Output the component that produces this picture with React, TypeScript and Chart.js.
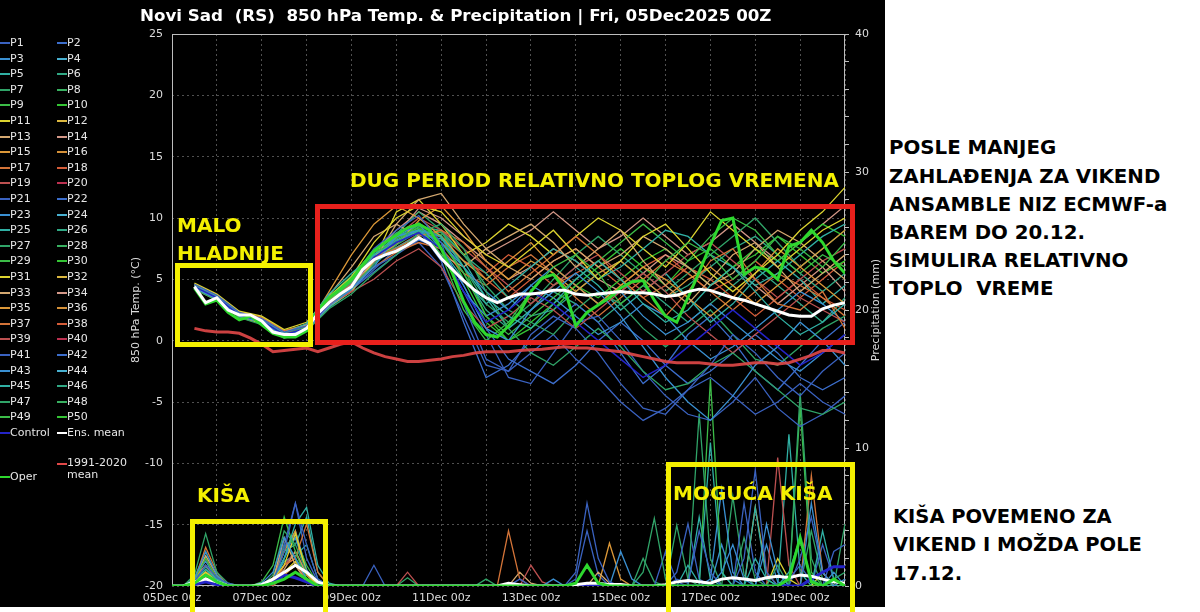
import React, { useEffect, useRef } from 'react';
import { Chart, registerables } from 'chart.js';

Chart.register(...registerables);

// ---------- text ----------
const chartTitle = 'Novi Sad  (RS)  850 hPa Temp. & Precipitation | Fri, 05Dec2025 00Z';
const tempAxisTitle = '850 hPa Temp. (°C)';
const precipAxisTitle = 'Precipitation (mm)';
const xTickLabels = ['05Dec 00z', '07Dec 00z', '09Dec 00z', '11Dec 00z', '13Dec 00z', '15Dec 00z', '17Dec 00z', '19Dec 00z'];

// colour cycle of the ensemble members (P1..P20, repeats)
const memberPalette = [
  '#3a62c0', '#3c6ecc', '#3a90d2', '#48b0d0', '#30b0a4', '#30a884', '#30a468', '#38b060', '#3cbc48', '#34c434',
  '#dcd430', '#dcb840', '#d4a870', '#d49888', '#dc9838', '#d49038', '#d47438', '#d45c38', '#bc5050', '#bc3050',
];

// ---------- temperature (°C) ----------
// 6-hourly, from +12h to +360h
const ensMeanTemp = [
  4.4, 3.1, 3.5, 2.5, 2.1, 2.1, 1.6, 0.7, 0.5, 0.5,
  1.0, 2.2, 3.1, 3.8, 4.4, 5.8, 6.6, 7.0, 7.3, 7.8,
  8.4, 7.9, 6.7, 5.8, 4.9, 4.1, 3.5, 3.1, 3.5, 3.8,
  3.8, 3.9, 4.1, 4.1, 3.8, 3.7, 3.8, 3.9, 4.0, 3.9,
  3.9, 3.8, 3.6, 3.7, 4.0, 4.2, 4.1, 3.8, 3.5, 3.3,
  3.0, 2.7, 2.4, 2.1, 2.0, 2.0, 2.6, 2.9, 3.1,
];
const operTemp = [
  4.3, 3.0, 3.3, 2.3, 1.7, 2.0, 1.3, 0.6, 0.3, 0.3,
  0.8, 2.5, 3.5, 4.2, 5.0, 6.2, 7.3, 8.0, 8.6, 9.2,
  9.5, 9.0, 7.5, 5.5, 3.2, 1.5, 0.5, 0.3, 1.2, 2.3,
  4.0, 5.1, 5.4, 4.2, 1.2, 2.3, 2.9, 3.5, 4.3, 4.8,
  4.9, 3.3, 2.0, 1.5, 3.5, 5.6, 7.8, 9.8, 10.0, 5.4,
  6.0, 5.8, 5.0, 7.7, 8.0, 9.0, 8.0, 6.5, 5.5,
];
const climTemp = [
  1.0, 0.8, 0.7, 0.7, 0.6, 0.2, -0.3, -0.9, -0.8, -0.7,
  -0.6, -0.9, -0.6, -0.3, -0.1, -0.6, -1.0, -1.3, -1.5, -1.7,
  -1.7, -1.6, -1.5, -1.3, -1.2, -1.0, -0.9, -0.9, -0.9, -0.8,
  -0.75, -0.7, -0.6, -0.5, -0.6, -0.6, -0.7, -0.8, -0.9, -1.1,
  -1.3, -1.5, -1.7, -1.8, -1.8, -1.8, -1.9, -2.0, -2.0, -1.9,
  -1.8, -1.8, -1.9, -1.8, -1.5, -1.2, -0.8, -0.8, -1.0,
];
// 12-hourly, from +12h to +360h
const controlTemp = [
  4.4, 3.5, 2.1, 1.6, 0.5, 1.0, 3.0, 4.5, 6.8, 8.0,
  8.8, 7.5, 4.0, 1.5, 2.5, 4.0, 3.0, 1.5, 0.0, -1.5,
  -3.0, -2.0, -0.5, 1.0, 2.5, 1.0, -0.5, -2.0, -1.0, 0.5,
];
const memberIds = [1, 3, 5, 7, 9, 11, 13, 15, 17, 19, 21, 23, 25, 27, 29, 31, 33, 35, 37, 39, 41, 43, 45, 47, 2, 6, 10, 14, 18, 22, 26, 30, 34, 38];
const memberTemp = [
  [4.6, 3.7, 2.3, 1.8, 0.7, 1.2, 3.5, 5.0, 7.5, 9.0, 10.2, 8.0, 3.0, -1.5, -2.5, 0.5, 2.0, 1.0, -1.0, -3.5, -5.5, -6.0, -4.0, -2.0, 0.5, -1.0, -3.0, -4.5, -2.5, -1.0],
  [4.3, 3.4, 2.0, 1.5, 0.4, 0.9, 2.8, 4.2, 6.0, 8.5, 9.5, 7.5, 4.5, 1.0, 0.0, 2.5, 4.0, 5.5, 4.0, 2.0, -0.5, -3.0, -5.0, -6.5, -4.5, -2.0, -0.5, 1.5, 0.0, -2.0],
  [4.5, 3.6, 2.2, 1.7, 0.6, 1.4, 3.8, 5.5, 7.0, 8.0, 9.0, 8.5, 6.0, 3.5, 2.0, 1.0, 3.0, 5.0, 6.5, 5.0, 3.0, 1.5, 2.5, 4.5, 6.0, 4.0, 2.0, 0.5, 1.5, 3.0],
  [4.2, 3.3, 1.9, 1.3, 0.2, 0.8, 2.6, 3.8, 5.5, 7.0, 8.8, 9.5, 7.5, 4.0, 1.0, -1.0, -2.0, -0.5, 1.0, -0.5, -2.5, -4.0, -3.5, -2.0, -1.0, -2.5, -4.0, -5.5, -6.0, -5.0],
  [4.4, 3.5, 2.1, 1.6, 0.5, 1.1, 3.2, 4.8, 7.2, 8.0, 9.5, 7.0, 2.5, 0.0, 1.5, 4.0, 6.0, 7.0, 5.5, 3.0, 4.5, 6.5, 8.0, 7.0, 5.0, 6.5, 8.5, 7.5, 6.0, 8.0],
  [4.7, 3.8, 2.4, 2.0, 0.9, 1.5, 3.6, 5.2, 8.0, 10.0, 11.0, 10.5, 8.5, 7.0, 6.0, 7.5, 9.0, 7.0, 5.0, 6.5, 8.5, 9.5, 7.5, 5.5, 4.0, 5.5, 7.0, 9.0, 10.5, 12.5],
  [4.5, 3.6, 2.2, 1.8, 0.7, 1.3, 3.0, 4.5, 6.5, 9.5, 11.5, 12.0, 9.5, 7.5, 8.5, 9.5, 8.0, 6.0, 7.5, 9.0, 6.5, 4.5, 3.0, 5.0, 7.0, 8.0, 6.0, 4.0, 5.5, 7.0],
  [4.3, 3.4, 2.0, 1.5, 0.5, 1.0, 4.0, 7.0, 9.5, 11.0, 10.0, 8.5, 6.5, 5.0, 6.5, 8.0, 6.0, 4.5, 3.0, 4.5, 6.0, 5.0, 3.5, 2.0, 3.5, 5.5, 7.5, 6.0, 4.5, 3.0],
  [4.6, 3.7, 2.3, 1.9, 0.8, 1.2, 3.3, 4.6, 6.8, 7.5, 8.5, 9.0, 8.0, 6.0, 4.0, 5.5, 7.0, 8.5, 7.0, 5.0, 3.5, 2.0, 4.0, 6.5, 7.5, 5.0, 3.0, 2.5, 4.0, 1.0],
  [4.4, 3.5, 2.1, 1.6, 0.6, 1.0, 2.9, 4.0, 5.0, 6.5, 7.5, 6.0, 3.0, 1.0, 2.0, 3.5, 2.5, 1.0, 2.5, 4.0, 5.5, 4.0, 2.0, 0.5, -1.0, 0.5, 2.0, 3.5, 2.5, 1.5],
  [4.5, 3.6, 2.2, 1.7, 0.6, 1.1, 3.1, 4.3, 6.0, 7.0, 8.5, 7.0, 4.0, 0.5, -3.0, -3.5, -1.0, 1.5, 2.0, 0.0, -2.5, -4.5, -6.0, -6.5, -5.0, -3.0, -5.5, -7.0, -6.0, -4.5],
  [4.3, 3.4, 2.0, 1.5, 0.4, 0.9, 3.4, 5.0, 6.5, 8.5, 9.0, 8.0, 6.0, 4.0, 2.5, 4.5, 6.0, 4.5, 3.0, 4.0, 2.0, 0.5, 1.5, 3.0, 1.5, 0.0, -1.5, -2.5, -1.0, 0.5],
  [4.6, 3.7, 2.3, 1.8, 0.7, 1.2, 3.2, 4.5, 7.0, 8.5, 9.0, 7.5, 5.0, 3.0, 4.5, 6.0, 7.5, 6.5, 5.0, 6.0, 7.5, 9.0, 8.5, 7.0, 6.0, 4.5, 5.5, 7.0, 8.5, 9.5],
  [4.4, 3.5, 2.1, 1.6, 0.5, 1.1, 3.0, 4.4, 6.2, 7.8, 8.9, 8.8, 7.0, 4.5, 2.5, 1.5, 0.5, 2.5, 4.0, 3.0, 1.0, -0.5, 1.0, 2.5, 0.5, -1.5, -2.0, -0.5, 1.0, 2.0],
  [4.5, 3.6, 2.2, 1.7, 0.6, 1.0, 3.0, 4.6, 7.0, 8.3, 9.2, 8.0, 5.5, 2.0, 0.5, 2.0, 3.5, 5.0, 6.5, 8.0, 9.5, 8.0, 6.5, 8.5, 10.0, 9.0, 7.0, 5.5, 7.0, 6.0],
  [4.2, 3.3, 1.9, 1.4, 0.3, 0.8, 2.8, 4.0, 6.5, 10.5, 11.5, 9.5, 7.0, 8.0, 9.5, 8.5, 7.0, 8.5, 10.0, 9.0, 7.5, 6.0, 8.0, 10.5, 9.0, 7.5, 6.0, 7.5, 9.0, 10.0],
  [4.5, 3.6, 2.2, 1.7, 0.7, 1.2, 3.7, 6.0, 8.5, 9.5, 8.5, 7.0, 6.0, 7.5, 6.0, 5.0, 6.5, 7.5, 6.0, 7.0, 8.5, 7.5, 6.0, 4.5, 5.5, 7.5, 9.0, 8.0, 6.5, 5.0],
  [4.6, 3.7, 2.3, 1.9, 0.8, 1.3, 3.4, 5.0, 6.8, 7.8, 9.8, 11.0, 9.0, 6.5, 5.0, 6.5, 5.5, 4.0, 5.5, 6.5, 5.0, 3.5, 5.0, 6.0, 4.5, 3.0, 4.5, 6.0, 7.5, 9.0],
  [4.3, 3.4, 2.0, 1.5, 0.5, 1.0, 3.0, 4.4, 6.0, 7.2, 8.0, 7.5, 5.5, 4.5, 6.0, 7.0, 5.5, 3.5, 2.0, 3.5, 5.0, 6.5, 5.5, 4.0, 2.5, 4.0, 5.5, 4.5, 3.5, 2.0],
  [4.4, 3.5, 2.1, 1.6, 0.6, 1.1, 3.1, 4.5, 6.4, 8.5, 10.0, 9.0, 7.5, 6.0, 4.5, 3.0, 4.5, 6.0, 7.0, 5.5, 4.0, 5.5, 7.0, 8.0, 6.5, 5.0, 3.5, 5.0, 6.5, 7.5],
  [4.5, 3.6, 2.2, 1.7, 0.6, 1.1, 2.9, 4.1, 5.8, 7.5, 8.0, 6.0, 2.0, -2.0, -2.5, -1.0, 0.5, -1.5, -3.0, -5.0, -6.5, -5.5, -4.0, -3.0, -4.5, -6.0, -5.0, -3.5, -5.0, -6.0],
  [4.4, 3.5, 2.1, 1.6, 0.5, 1.0, 3.3, 4.9, 6.9, 8.2, 9.0, 7.0, 4.0, 2.0, 3.0, 4.5, 3.5, 2.0, 0.5, 1.5, 3.0, 2.0, 0.0, -1.5, -0.5, 1.0, 2.5, 4.0, 3.0, 1.5],
  [4.3, 3.4, 2.0, 1.5, 0.4, 0.9, 2.7, 4.0, 6.3, 7.6, 8.6, 8.3, 6.5, 3.5, 1.0, 2.5, 4.5, 6.0, 4.5, 2.5, 4.0, 5.5, 3.5, 1.5, 3.0, 5.0, 6.5, 5.0, 3.0, 4.5],
  [4.6, 3.7, 2.3, 1.8, 0.8, 1.3, 3.6, 5.3, 7.3, 8.7, 10.5, 9.0, 6.0, 3.0, 1.5, 3.0, 5.0, 7.0, 8.5, 7.0, 5.5, 4.0, 5.5, 7.0, 8.5, 10.0, 8.0, 6.0, 7.5, 9.0],
  [4.5, 3.6, 2.2, 1.7, 0.6, 1.1, 3.3, 4.7, 6.6, 8.0, 9.0, 6.5, 1.5, -3.0, -2.0, 0.0, 1.5, 3.0, 1.5, -1.0, -3.5, -2.0, 0.5, 2.0, 0.0, -2.5, -4.0, -2.0, 0.0, 1.5],
  [4.4, 3.5, 2.1, 1.6, 0.5, 1.0, 3.1, 4.6, 6.9, 8.1, 9.3, 9.0, 7.0, 5.5, 3.5, 2.0, 2.5, 4.0, 5.5, 6.5, 5.0, 3.5, 4.5, 6.0, 7.5, 8.5, 7.0, 5.5, 4.0, 5.5],
  [4.3, 3.4, 2.0, 1.5, 0.5, 1.0, 3.0, 4.3, 6.4, 7.9, 9.1, 8.6, 5.0, 1.5, 0.0, 1.5, 3.0, 4.5, 3.5, 5.0, 6.5, 7.5, 6.0, 4.5, 6.0, 7.5, 6.5, 8.0, 9.5, 8.5],
  [4.6, 3.7, 2.3, 1.8, 0.7, 1.2, 3.4, 5.0, 7.2, 9.0, 10.5, 9.5, 8.0, 6.5, 5.0, 6.0, 7.5, 6.5, 5.0, 4.0, 5.5, 7.0, 6.0, 4.5, 6.0, 4.5, 3.0, 4.5, 6.0, 4.0],
  [4.5, 3.6, 2.2, 1.7, 0.6, 1.1, 3.2, 4.6, 6.5, 8.0, 9.0, 8.0, 6.5, 5.5, 7.0, 6.0, 4.5, 5.5, 6.5, 5.0, 3.5, 4.5, 6.0, 5.0, 3.5, 2.0, 3.5, 5.0, 3.5, 2.5],
  [4.4, 3.5, 2.1, 1.6, 0.5, 1.0, 3.0, 4.2, 5.6, 7.0, 8.2, 7.5, 4.5, 1.0, -1.5, -2.5, -3.5, -2.0, 0.0, 1.5, 0.0, -2.0, -3.5, -2.5, -1.0, 0.5, -1.0, -3.0, -4.0, -3.0],
  [4.5, 3.6, 2.2, 1.7, 0.6, 1.1, 3.5, 5.1, 7.4, 8.8, 9.6, 8.4, 5.5, 2.5, 1.0, 2.5, 4.0, 3.0, 1.5, 3.0, 4.5, 3.0, 1.5, 3.0, 4.5, 6.0, 4.5, 3.0, 1.5, 3.5],
  [4.4, 3.5, 2.1, 1.6, 0.6, 1.1, 3.1, 4.5, 6.7, 8.4, 9.4, 8.9, 6.0, 2.0, 0.0, 1.0, 2.5, 4.5, 6.0, 7.5, 6.0, 4.5, 6.5, 7.5, 6.0, 7.0, 8.5, 7.0, 5.5, 6.5],
  [4.3, 3.4, 2.0, 1.5, 0.4, 0.9, 3.2, 4.8, 6.8, 8.6, 10.8, 10.0, 8.5, 7.0, 8.0, 9.0, 10.5, 9.0, 7.5, 8.5, 10.0, 8.5, 7.0, 8.0, 9.5, 8.0, 6.5, 8.0, 9.5, 11.0],
  [4.6, 3.7, 2.3, 1.8, 0.8, 1.2, 3.3, 4.7, 6.7, 7.6, 8.7, 8.5, 7.0, 5.0, 3.5, 5.0, 6.5, 7.5, 6.0, 4.5, 6.0, 7.0, 5.5, 4.0, 5.0, 6.5, 5.0, 3.5, 5.0, 6.5],
];

// ---------- precipitation (mm), 6-hourly from +0h to +360h ----------
const ensMeanPrecip = [
  0, 0, 0.3, 0.5, 0.3, 0, 0, 0, 0.1, 0.5,
  1.0, 1.5, 1.0, 0.3, 0, 0, 0, 0, 0, 0,
  0, 0, 0, 0, 0, 0, 0, 0, 0, 0,
  0.2, 0.1, 0, 0, 0, 0, 0.1, 0.2, 0.2, 0.1,
  0.1, 0, 0, 0, 0.1, 0.3, 0.4, 0.3, 0.2, 0.5,
  0.6, 0.5, 0.4, 0.6, 0.7, 0.6, 0.8, 0.7, 0.5, 0.3, 0.2,
];
const operPrecip = [
  0, 0, 0.2, 0.8, 0.3, 0, 0, 0, 0, 0.2,
  0.5, 1.0, 0.5, 0, 0, 0, 0, 0, 0, 0,
  0, 0, 0, 0, 0, 0, 0, 0, 0, 0,
  0, 0, 0, 0, 0, 0, 0.2, 1.5, 0.2, 0,
  0, 0, 0, 0, 0, 0, 0, 0, 0, 0,
  0, 0, 0, 0, 0, 0.5, 3.5, 0.3, 0, 0.5, 0,
];
const controlPrecip = [
  0, 0, 0.1, 0.3, 0.1, 0, 0, 0, 0, 0.2,
  0.8, 0.6, 0.3, 0, 0, 0, 0, 0, 0, 0,
  0, 0, 0, 0, 0, 0, 0, 0, 0, 0,
  0, 0, 0, 0, 0, 0, 0, 0, 0, 0,
  0, 0, 0, 0, 0, 0, 0, 0, 0, 0,
  0, 0, 0, 0, 0, 0, 0, 0.5, 1.0, 1.4, 1.4,
];
const precipMemberIds = [1, 3, 5, 7, 9, 11, 13, 15, 17, 19, 21, 23, 25, 27, 29, 31, 33, 35, 37, 39, 41, 43, 45, 47];
const memberPrecip = [
  [0, 0, 0.3, 1.5, 0.6, 0.2, 0, 0, 0, 0.3, 2.5, 6.0, 3.0, 0.5, 0, 0, 0, 0, 1.5, 0, 0, 0, 0, 0, 0, 0, 0, 0, 0, 0, 0, 0.5, 0, 0, 0, 0, 1.0, 6.0, 2.0, 0.3, 0, 0, 0, 0, 0, 0.5, 0.2, 4.0, 1.0, 0, 0, 2.0, 8.4, 1.0, 0, 0.5, 1.5, 0.3, 0, 2.5, 3.0],
  [0, 0, 0.5, 2.5, 0.8, 0, 0, 0, 0.2, 1.0, 3.5, 2.0, 0.5, 0, 0, 0, 0, 0, 0, 0, 0, 0, 0, 0, 0, 0, 0, 0, 0, 0, 0, 0, 0, 0, 0.5, 0, 0, 0, 0, 0, 2.5, 0.5, 0, 0, 0, 0, 0, 0, 0, 1.0, 3.0, 0.5, 0, 4.5, 1.0, 0, 0, 6.0, 1.0, 0, 0.5],
  [0, 0, 0.4, 1.2, 0.5, 0, 0, 0, 0, 0.5, 2.0, 4.5, 5.7, 1.5, 0.2, 0, 0, 0, 0, 0, 0, 0, 0, 0, 0, 0, 0, 0, 0, 0, 0, 0, 0, 0, 0, 0, 0, 0, 0, 0, 0, 0, 0, 0, 0, 0, 1.5, 0.2, 10.4, 1.0, 0, 0, 2.0, 0.5, 0, 1.0, 3.5, 0.5, 0, 0, 0],
  [0, 0, 0.8, 3.8, 1.0, 0.2, 0, 0, 0, 0.8, 4.0, 3.0, 1.0, 0.2, 0, 0, 0, 0, 0, 0, 0, 0, 0, 0, 0, 0, 0, 0, 0.5, 0, 0, 0, 0, 0, 0, 0, 0, 0, 0, 0, 0, 0, 1.0, 4.9, 0.5, 0, 0, 12.5, 2.0, 0, 0, 0, 0, 0, 1.5, 0, 14.0, 2.0, 0, 0.5, 1.0],
  [0, 0, 0.5, 2.0, 0.5, 0, 0, 0, 0.3, 1.5, 5.0, 2.5, 0.5, 0, 0, 0, 0, 0, 0, 0, 0, 0, 0, 0, 0, 0, 0, 0, 0, 0, 0, 0, 0, 0, 0, 0, 0, 0, 0, 0, 0, 0, 0, 0, 0, 0, 0, 0, 15.0, 1.0, 0, 0, 0, 0, 0, 0, 0, 0, 0, 0, 0],
  [0, 0, 0.3, 1.0, 0.3, 0, 0, 0, 0, 0.5, 1.5, 3.8, 1.0, 0, 0, 0, 0, 0, 0, 0, 0, 0, 0, 0, 0, 0, 0, 0, 0, 0, 0, 0, 0, 0, 0, 0, 0, 0, 0, 0, 0, 0, 0, 0, 0, 0, 0, 0, 0, 0, 0, 0, 0, 0, 2.0, 0.5, 0, 0, 1.0, 0, 0],
  [0, 0, 0.5, 2.2, 0.8, 0, 0, 0, 0, 0.4, 3.5, 1.5, 0.3, 0, 0, 0, 0, 0, 0, 0, 0, 0, 0, 0, 0, 0, 0, 0, 0, 0, 0, 0, 0, 0, 0, 0, 0, 0, 1.0, 0.2, 0, 0, 0, 0, 0, 0, 0, 0, 0, 0, 0, 0, 0, 0, 0, 0, 0, 0, 0, 0, 0],
  [0, 0, 0.6, 1.5, 0.5, 0, 0, 0, 0, 0.6, 2.5, 4.0, 0.8, 0, 0, 0, 0, 0, 0, 0, 0, 0, 0, 0, 0, 0, 0, 0, 0, 0, 0, 0, 0, 0, 0, 0, 0, 0, 0, 3.1, 0.5, 0, 0, 0, 0, 0, 0, 0, 0, 0, 0, 0, 0, 0, 0, 0, 0, 0, 0, 0, 0],
  [0, 0, 0.4, 2.8, 1.0, 0, 0, 0, 0, 0.3, 1.5, 2.0, 4.5, 1.0, 0, 0, 0, 0, 0, 0, 0, 0, 0, 0, 0, 0, 0, 0, 0, 0, 4.0, 0.5, 0, 0, 0, 0, 0, 0, 0, 0, 0, 0, 0, 0, 0, 0, 0, 0, 0, 0, 0, 0, 0, 0, 0, 0, 0, 8.0, 1.0, 0, 0],
  [0, 0, 0.3, 1.0, 0.3, 0, 0, 0, 0, 0, 1.0, 1.5, 0.5, 0, 0, 0, 0, 0, 0, 0, 0, 1.0, 0, 0, 0, 0, 0, 0, 0, 0, 0, 0, 1.5, 0.3, 0, 0, 0, 0, 0, 0, 0, 0, 0, 0, 0, 0, 0, 0, 0, 0, 0, 0, 0, 0, 9.3, 1.5, 0, 0, 0, 0, 0],
  [0, 0, 0.2, 0.8, 0.2, 0, 0, 0, 0, 0.5, 3.0, 6.0, 2.0, 0.3, 0, 0, 0, 0, 0, 0, 0, 0, 0, 0, 0, 0, 0, 0, 0, 0, 0, 0, 0, 0, 0, 0, 0, 0, 0, 0, 0, 0, 0, 0, 0, 1.0, 4.5, 0.5, 0, 0, 0, 0, 0, 0, 0, 0, 2.0, 5.0, 1.0, 0, 0],
  [0, 0, 0.5, 1.8, 0.4, 0, 0, 0, 0, 0.2, 2.0, 3.5, 1.0, 0, 0, 0, 0, 0, 0, 0, 0, 0, 0, 0, 0, 0, 0, 0, 0, 0, 0, 0, 0, 0, 0, 0, 0, 0, 0, 0, 0, 0, 0, 0, 0, 0, 0, 0, 0, 3.0, 0.5, 0, 0, 0, 0, 0, 0, 0, 0, 1.0, 0],
  [0, 0, 0.4, 1.4, 0.6, 0, 0, 0, 0, 0.3, 2.5, 3.0, 5.0, 1.0, 0, 0, 0, 0, 0, 0, 0, 0, 0, 0, 0, 0, 0, 0, 0, 0, 0, 0, 0, 0, 0, 0, 0, 0, 0, 0, 0, 0, 0, 0, 0, 0, 0, 0, 0, 0, 0, 0, 5.7, 0.5, 0, 0, 0, 0, 4.0, 0.5, 0],
  [0, 0, 0.6, 2.5, 0.7, 0, 0, 0, 0, 0.4, 3.5, 2.0, 0.8, 0, 0, 0, 0, 0, 0, 0, 0, 0.6, 0, 0, 0, 0, 0, 0, 0, 0, 0, 0, 0, 0, 0, 0, 0, 0, 0, 0, 0, 0, 0, 0, 0, 4.4, 0.5, 0, 0, 0, 0, 3.5, 0.5, 0, 0, 0, 0, 0, 0, 0, 4.5],
  [0, 0, 0.3, 1.2, 0.4, 0, 0, 0, 0, 0.5, 2.8, 3.5, 1.5, 0.2, 0, 0, 0, 0, 0, 0, 0, 0, 0, 0, 0, 0, 0, 0, 0, 0, 0, 0, 0, 0, 0, 0, 0, 0, 0, 0, 0, 0, 0, 0, 0, 0, 0, 0, 0, 0, 0, 0, 0, 0, 0, 0, 13.0, 1.0, 0, 0, 0],
  [0, 0, 0.2, 0.6, 0.2, 0, 0, 0, 0, 0, 1.0, 1.8, 0.5, 0, 0, 0, 0, 0, 0, 0, 0, 0, 0, 0, 0, 0, 0, 0, 0, 0, 0, 0, 0, 0, 0, 0, 0, 0, 0, 0, 0, 0, 0, 0, 0, 0, 0, 0, 0, 0, 0, 0, 0, 0, 0, 0, 0, 0, 0, 0, 0],
  [0, 0, 0.4, 1.0, 0.5, 0, 0, 0, 0, 0.3, 1.2, 2.5, 0.8, 0, 0, 0, 0, 0, 0, 0, 0, 0, 0, 0, 0, 0, 0, 0, 0, 0, 0, 1.0, 0.2, 0, 0, 0, 0, 0, 0, 0, 0, 0, 0, 0, 0, 0, 0, 0, 0, 0, 0, 0, 0, 0, 0, 0, 0, 0, 0, 0, 0],
  [0, 0, 0.3, 0.8, 0.3, 0, 0, 0, 0, 0, 0.8, 1.5, 0.5, 0, 0, 0, 0, 0, 0, 0, 0, 0, 0, 0, 0, 0, 0, 0, 0, 0, 0, 0, 0, 0, 0, 0, 0, 0, 0, 0, 0, 0, 0, 0, 0, 0, 0, 0, 0, 0, 0, 0, 5.7, 1.0, 0, 0, 0, 0, 0, 0, 0],
  [0, 0, 0.5, 2.0, 0.6, 0, 0, 0, 0, 0, 1.5, 2.0, 0.5, 0, 0, 0, 0, 0, 0, 0, 0, 0, 0, 0, 0, 0, 0, 0, 0, 0, 0, 0, 0, 0, 0, 0, 0, 0, 0, 0, 0, 0, 0, 0, 0, 0, 0, 0, 0, 0, 0, 0, 0, 0, 0, 0, 0, 0, 0, 0, 0],
  [0, 0, 0.3, 1.0, 0.4, 0, 0, 0, 0, 0.2, 1.5, 2.5, 1.0, 0, 0, 0, 0, 0, 0, 0, 0, 0, 0, 0, 0, 0, 0, 0, 0, 0, 0, 0, 0, 0, 0, 0, 0, 0, 0, 0, 0, 0, 0, 0, 0, 0, 0, 0, 0, 0, 0, 0, 0, 0, 0, 0, 0, 0, 0, 0, 0],
  [0, 0, 0.3, 1.0, 0.3, 0, 0, 0, 0, 0.3, 1.5, 2.5, 0.8, 0, 0, 0, 0, 0, 0, 0, 0, 0, 0, 0, 0, 0, 0, 0, 0, 0, 0, 0, 0, 0, 0, 0, 0.5, 4.0, 0.8, 0, 0, 0, 0, 0, 2.5, 0.3, 0, 0, 0, 0, 0, 6.0, 1.0, 0, 0, 0, 0, 0, 3.0, 0.5, 0],
  [0, 0, 0.2, 0.6, 0.2, 0, 0, 0, 0, 0.4, 2.0, 4.0, 1.2, 0, 0, 0, 0, 0, 0, 0, 0, 0, 0, 0, 0, 0, 0, 0, 0, 0, 0, 0, 0, 0, 0, 0, 0, 0, 0, 0, 0, 0, 0, 0, 0, 0, 0, 0, 0.5, 7.0, 1.0, 0, 0, 3.0, 0.3, 0, 0, 0, 0, 0, 0],
  [0, 0, 0.4, 1.5, 0.4, 0, 0, 0, 0, 0.3, 1.8, 2.2, 3.0, 0.5, 0, 0, 0, 0, 0, 0, 0, 0, 0, 0, 0, 0, 0, 0, 0, 0, 0, 0, 0, 0, 0, 0, 0, 0, 0, 0, 0, 0, 0, 0, 0, 0, 0, 5.0, 0.5, 0, 0, 0, 0, 0, 0, 11.0, 1.0, 0, 0, 0, 0],
  [0, 0, 0.3, 1.0, 0.3, 0, 0, 0, 0, 0.5, 3.0, 2.0, 0.5, 0, 0, 0, 0, 0, 0, 0, 0, 0, 0, 0, 0, 0, 0, 0, 0, 0, 0, 0, 0, 0, 0, 0, 0, 0, 0, 0, 0, 0, 2.0, 0.3, 0, 0, 0, 0, 0, 0, 6.5, 0.8, 0, 0, 0, 0, 0, 4.0, 0.5, 0, 0],
];

// ---------- legend entries ----------
const legendMemberCount = 50;
const extraLegend = [
  { label: 'Control', color: '#2424c8', col: 0, row: 25 },
  { label: 'Ens. mean', color: '#ffffff', col: 1, row: 25 },
];

// ---------- annotation text ----------
const notesTop = ['POSLE MANJEG', 'ZAHLAĐENJA ZA VIKEND', 'ANSAMBLE NIZ ECMWF-a', 'BAREM DO 20.12.', 'SIMULIRA RELATIVNO', 'TOPLO  VREME'];
const notesBottom = ['KIŠA POVEMENO ZA', 'VIKEND I MOŽDA POLE', '17.12.'];

const COLOR_MEAN = '#ffffff';
const COLOR_OPER = '#2ed82e';
const COLOR_CONTROL = '#2424c8';
const COLOR_CLIM = 'rgba(226,72,72,0.9)';
const YELLOW = '#f4f000';
const RED = '#e8201c';

const pts = (arr: number[], start: number, step: number) => arr.map((v, i) => ({ x: start + i * step, y: v }));
const memberColor = (id: number) => memberPalette[(id - 1) % 20];

const framePlugin = {
  id: 'frameAndRightTitle',
  beforeDatasetsDraw(chart: any) {
    const { ctx, chartArea: a } = chart;
    ctx.save();
    ctx.strokeStyle = '#bdbdbd';
    ctx.lineWidth = 1;
    ctx.strokeRect(a.left + 0.5, a.top + 0.5, a.right - a.left - 1, a.bottom - a.top - 1);
    ctx.restore();
  },
  afterDraw(chart: any) {
    const { ctx, chartArea: a } = chart;
    ctx.save();
    ctx.translate(876, (a.top + a.bottom) / 2);
    ctx.rotate(-Math.PI / 2);
    ctx.font = '11px "DejaVu Sans"';
    ctx.fillStyle = '#dcdcdc';
    ctx.textAlign = 'center';
    ctx.textBaseline = 'middle';
    ctx.fillText(precipAxisTitle, 0, 0);
    ctx.restore();
  },
};

function buildDatasets() {
  const ds: any[] = [];
  ds.push({ label: 'Ens. mean', data: pts(ensMeanTemp, 12, 6), borderColor: COLOR_MEAN, borderWidth: 3, yAxisID: 'y' });
  ds.push({ label: 'Oper precip', data: pts(operPrecip, 0, 6), borderColor: COLOR_OPER, borderWidth: 3, yAxisID: 'y2' });
  ds.push({ label: 'Ens. mean precip', data: pts(ensMeanPrecip, 0, 6), borderColor: COLOR_MEAN, borderWidth: 3, yAxisID: 'y2' });
  ds.push({ label: 'Oper', data: pts(operTemp, 12, 6), borderColor: COLOR_OPER, borderWidth: 3, yAxisID: 'y' });
  ds.push({ label: '1991-2020 mean', data: pts(climTemp, 12, 6), borderColor: COLOR_CLIM, borderWidth: 3, yAxisID: 'y' });
  ds.push({ label: 'Control precip', data: pts(controlPrecip, 0, 6), borderColor: COLOR_CONTROL, borderWidth: 3, yAxisID: 'y2' });
  ds.push({ label: 'Control', data: pts(controlTemp, 12, 12), borderColor: COLOR_CONTROL, borderWidth: 1.5, yAxisID: 'y' });
  memberTemp.forEach((arr, k) => {
    ds.push({ label: 'P' + memberIds[k], data: pts(arr, 12, 12), borderColor: memberColor(memberIds[k]), borderWidth: 1.3, yAxisID: 'y' });
  });
  memberPrecip.forEach((arr, k) => {
    ds.push({ label: 'P' + precipMemberIds[k] + ' precip', data: pts(arr, 0, 6), borderColor: memberColor(precipMemberIds[k]), borderWidth: 1.3, yAxisID: 'y2' });
  });
  return ds;
}

const FONT = 'DejaVu Sans';
const TICK_COLOR = '#dcdcdc';
const GRID_COLOR = '#505050';

export default function App() {
  const canvasRef = useRef<HTMLCanvasElement | null>(null);

  useEffect(() => {
    if (!canvasRef.current) return;
    const chart = new Chart(canvasRef.current, {
      type: 'line',
      data: { datasets: buildDatasets() },
      options: {
        animation: false,
        responsive: false,
        devicePixelRatio: 1,
        layout: { padding: { left: 120, top: 34, right: 0, bottom: 0 } },
        elements: { point: { radius: 0 }, line: { tension: 0 } },
        plugins: { legend: { display: false }, tooltip: { enabled: false }, title: { display: false } },
        scales: {
          x: {
            type: 'linear',
            min: 0,
            max: 360,
            afterFit: (s: any) => { s.height = 21; },
            ticks: {
              stepSize: 24,
              autoSkip: false,
              maxRotation: 0,
              padding: 6,
              color: TICK_COLOR,
              font: { family: FONT, size: 11 },
              callback: (v: any) => (v % 48 === 0 && v / 48 < xTickLabels.length ? xTickLabels[v / 48] : ''),
            },
            grid: { color: GRID_COLOR, drawTicks: false },
            border: { display: false, dash: [2, 3] },
          },
          y: {
            type: 'linear',
            position: 'left',
            min: -20,
            max: 25,
            afterFit: (s: any) => { s.width = 52; },
            ticks: { stepSize: 5, padding: 9, color: TICK_COLOR, font: { family: FONT, size: 11 } },
            grid: { color: GRID_COLOR, drawTicks: false },
            border: { display: false, dash: [2, 3] },
            title: { display: true, text: tempAxisTitle, color: TICK_COLOR, font: { family: FONT, size: 11 }, padding: { top: 10, bottom: 0 } },
          },
          y2: {
            type: 'linear',
            position: 'right',
            min: 0,
            max: 40,
            afterFit: (s: any) => { s.width = 40; },
            ticks: {
              stepSize: 2,
              autoSkip: false,
              padding: 6,
              color: TICK_COLOR,
              font: { family: FONT, size: 11 },
              callback: (v: any) => (v % 10 === 0 ? String(v) : ''),
            },
            grid: { drawOnChartArea: false, drawTicks: true, tickLength: 4, color: '#bdbdbd' },
            border: { display: false },
          },
        },
      } as any,
      plugins: [framePlugin],
    });
    return () => chart.destroy();
  }, []);

  const legendItems: { label: string; color: string; col: number; row: number }[] = [];
  for (let n = 1; n <= legendMemberCount; n++) {
    legendItems.push({ label: 'P' + n, color: memberColor(n), col: (n - 1) % 2, row: Math.floor((n - 1) / 2) });
  }
  extraLegend.forEach((e) => legendItems.push(e));

  const rowY = (r: number) => 43 + 15.6 * r;
  const textAt = (size: number, capCenter: number) => capCenter - 0.4815 * size;

  const yellowText = (text: string, left: number, capCenter: number, key: string) => (
    <div key={key} style={{ position: 'absolute', left, top: textAt(20, capCenter), fontFamily: FONT, fontWeight: 'bold', fontSize: 20, lineHeight: '20px', color: YELLOW, whiteSpace: 'pre' }}>{text}</div>
  );

  return (
    <div style={{ position: 'fixed', left: 0, top: 0, width: 1200, height: 612, background: '#ffffff', overflow: 'hidden' }}>
      <div style={{ position: 'absolute', left: 0, top: 0, width: 885, height: 607, background: '#000000' }}>
        <canvas ref={canvasRef} width={885} height={607} style={{ position: 'absolute', left: 0, top: 0, width: 885, height: 607 }} />
      </div>

      {/* title */}
      <div style={{ position: 'absolute', left: 140, top: textAt(16.7, 15.5), fontFamily: FONT, fontWeight: 'bold', fontSize: 16.7, lineHeight: '16.7px', color: '#ffffff', whiteSpace: 'pre' }}>{chartTitle}</div>

      {/* legend */}
      {legendItems.map((it) => {
        const x = it.col === 0 ? 0 : 57;
        const y = rowY(it.row);
        return (
          <div key={it.label}>
            <div style={{ position: 'absolute', left: x, top: y - 1, width: 10, height: 2, background: it.color }} />
            <div style={{ position: 'absolute', left: x + 10, top: y - 7, fontFamily: FONT, fontSize: 11, lineHeight: '14px', color: '#e6e6e6', whiteSpace: 'pre' }}>{it.label}</div>
          </div>
        );
      })}
      <div style={{ position: 'absolute', left: 57, top: 463, width: 10, height: 2, background: '#e04848' }} />
      <div style={{ position: 'absolute', left: 67, top: 457, fontFamily: FONT, fontSize: 11, lineHeight: '11.5px', color: '#e6e6e6', whiteSpace: 'pre' }}>{'1991-2020\nmean'}</div>
      <div style={{ position: 'absolute', left: 0, top: 476, width: 10, height: 2, background: COLOR_OPER }} />
      <div style={{ position: 'absolute', left: 10, top: 470, fontFamily: FONT, fontSize: 11, lineHeight: '14px', color: '#e6e6e6', whiteSpace: 'pre' }}>Oper</div>

      {/* annotation boxes */}
      <div style={{ position: 'absolute', left: 175, top: 263, width: 138, height: 84, border: `5px solid ${YELLOW}`, boxSizing: 'border-box' }} />
      <div style={{ position: 'absolute', left: 315, top: 204, width: 540, height: 141, border: `5px solid ${RED}`, boxSizing: 'border-box' }} />
      <div style={{ position: 'absolute', left: 190, top: 519, width: 138, height: 120, border: `5px solid ${YELLOW}`, boxSizing: 'border-box' }} />
      <div style={{ position: 'absolute', left: 666, top: 462, width: 189, height: 180, border: `5px solid ${YELLOW}`, boxSizing: 'border-box' }} />

      {yellowText('MALO', 177, 225, 'malo')}
      {yellowText('HLADNIJE', 177, 252.5, 'hladnije')}
      {yellowText('DUG PERIOD RELATIVNO TOPLOG VREMENA', 350, 179.5, 'dug')}
      {yellowText('KIŠA', 197, 494.5, 'kisa')}
      {yellowText('MOGUĆA KIŠA', 673, 492.5, 'moguca')}

      {/* right-hand notes */}
      {notesTop.map((t, i) => (
        <div key={'nt' + i} style={{ position: 'absolute', left: 889, top: textAt(19.8, 148 + 28.2 * i), fontFamily: FONT, fontWeight: 'bold', fontSize: 19.8, lineHeight: '19.8px', color: '#000000', whiteSpace: 'pre' }}>{t}</div>
      ))}
      {notesBottom.map((t, i) => (
        <div key={'nb' + i} style={{ position: 'absolute', left: 893, top: textAt(19.5, 516 + 28.5 * i), fontFamily: FONT, fontWeight: 'bold', fontSize: 19.5, lineHeight: '19.5px', color: '#000000', whiteSpace: 'pre' }}>{t}</div>
      ))}
    </div>
  );
}
